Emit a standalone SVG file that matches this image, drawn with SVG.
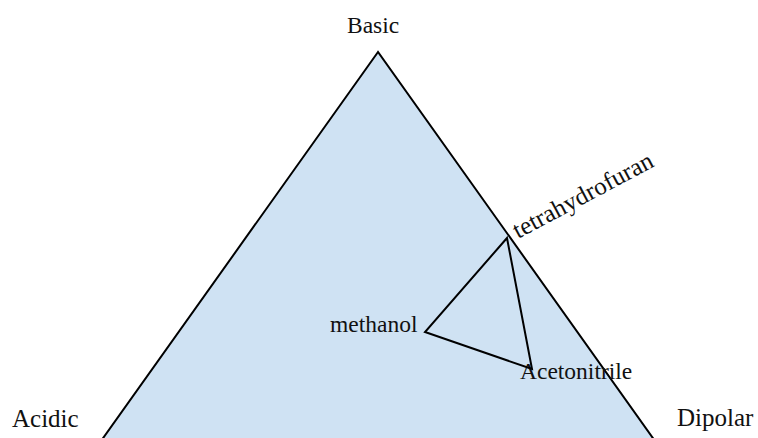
<svg xmlns="http://www.w3.org/2000/svg" width="758" height="438" viewBox="0 0 758 438">
<style>
  .lbl { font-family: "Liberation Serif", "Times New Roman", serif; font-size: 23.5px; fill: #111; }
  .big { font-size: 25px; }
  .edge { fill: none; stroke: #000; stroke-width: 2; stroke-linejoin: miter; }
</style>
<rect width="758" height="438" fill="#ffffff"/>
<g id="main-triangle">
  <polygon points="378,52 59,500 697,500" fill="#cfe2f3" stroke="#000" stroke-width="2"/>
</g>
<g id="basic"><text class="lbl" x="347" y="33">Basic</text></g>
<g id="acidic"><text class="lbl big" x="12" y="427">Acidic</text></g>
<g id="dipolar"><text class="lbl big" x="677" y="426">Dipolar</text></g>
<g id="thf"><text class="lbl big" transform="translate(518,239) rotate(-28)">tetrahydrofuran</text></g>
<g id="methanol"><text class="lbl" x="330" y="332">methanol</text></g>
<g id="acetonitrile"><text class="lbl" x="520" y="379">Acetonitrile</text></g>
<g id="connectors">
  <polygon class="edge" points="507,238 425,332 532,369"/>
</g>
</svg>
